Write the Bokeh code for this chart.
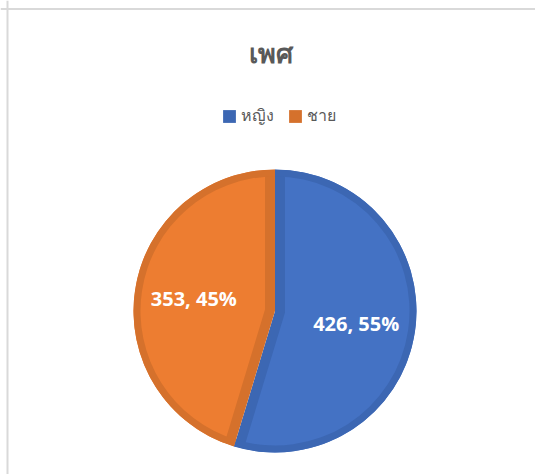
import numpy as np
from bokeh.plotting import figure
from bokeh.models import Range1d, Span, Legend, LegendItem, ColumnDataSource
from bokeh.core.properties import value
from bokeh.embed import file_html
from bokeh.resources import INLINE

# ---- data ----
categories = ["หญิง", "ชาย"]
counts = [426, 353]
light_colors = ["#4472C4", "#ED7D31"]
dark_colors = ["#3C67B3", "#D5712C"]
title_text = "เพศ"

# ---- layout (pixels) ----
W, H = 535, 474
cx, cy = 274.5, H - 310.5   # pie centre
R = 141.5                   # pie radius
edge = 10.0                 # radial border width
rim = 7.0                   # outer border width

vals = np.array(counts, dtype=float)
frac = vals / vals.sum()
span = frac * 2 * np.pi
start = np.pi / 2 - np.concatenate([[0], np.cumsum(span)[:-1]])
end = start - span
mid = (start + end) / 2
half = span / 2
off = edge / np.sin(half)

labels = [f"{c}, {round(f * 100)}%" for c, f in zip(counts, frac)]

src = ColumnDataSource(dict(
    cat=categories, start=start, end=end,
    light=light_colors, dark=dark_colors,
    ox=cx + off * np.cos(mid), oy=cy + off * np.sin(mid),
    lx=cx + 0.58 * R * np.cos(mid), ly=cy + 0.58 * R * np.sin(mid),
    label=labels,
))

p = figure(width=W, height=H, output_backend="svg", toolbar_location=None,
           x_range=Range1d(0, W), y_range=Range1d(0, H), min_border=0,
           outline_line_color=None)
p.xaxis.visible = False
p.yaxis.visible = False
p.grid.visible = False
p.background_fill_color = "white"
p.border_fill_color = "white"

# dark full slices
dark_r = p.wedge(x=cx, y=cy, radius=R, start_angle="start", end_angle="end",
                 direction="clock", fill_color="dark", line_color=None, source=src)
# light inner slices (inset along the bisector)
p.wedge(x="ox", y="oy", radius=R, start_angle="start", end_angle="end",
        direction="clock", fill_color="light", line_color=None, source=src)
# white ring to trim overflow outside the pie
p.annulus(x=cx, y=cy, inner_radius=R, outer_radius=R + edge + 6,
          fill_color="white", line_color=None)
# outer darker rim
p.annular_wedge(x=cx, y=cy, inner_radius=R - rim, outer_radius=R,
                start_angle="start", end_angle="end", direction="clock",
                fill_color="dark", line_color=None, source=src)

# data labels
p.text(x="lx", y="ly", text="label", source=src, text_color="white",
       text_font=value("Open Sans"), text_font_style="bold",
       text_font_size="20px", text_align="center", text_baseline="middle")

# title
p.text(x=[270], y=[H - 52], text=[title_text], text_color="#595959",
       text_font=value("Noto Sans"), text_font_style="bold",
       text_font_size="27px", text_align="center", text_baseline="middle")

# legend
items = [LegendItem(label=c, renderers=[dark_r], index=i) for i, c in enumerate(categories)]
legend = Legend(items=items, orientation="horizontal", location=(221.4, H - 128),
                glyph_width=16, glyph_height=16, label_height=16,
                label_standoff=4, spacing=13, padding=0, margin=0,
                border_line_color=None, background_fill_alpha=0,
                label_text_font="Noto Sans", label_text_font_size="16px",
                label_text_color="#595959", label_text_baseline="middle")
p.add_layout(legend, "center")

# chart border (left and top)
p.add_layout(Span(location=7, dimension="height", line_color="#D9D9D9", line_width=2))
p.add_layout(Span(location=H - 8.5, dimension="width", line_color="#D9D9D9", line_width=2))

open("out.html", "w").write(file_html(p, INLINE))
